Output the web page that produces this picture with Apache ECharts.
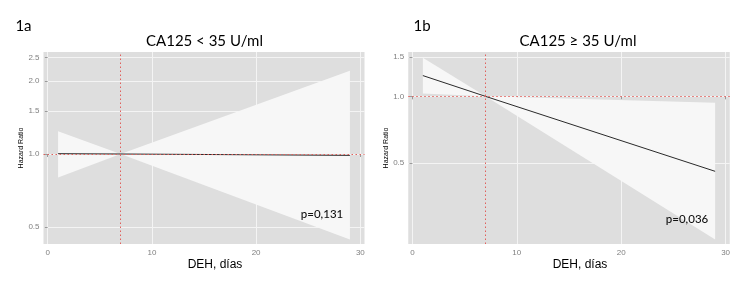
<!DOCTYPE html>
<html>
<head>
<meta charset="utf-8">
<script src="https://cdn.jsdelivr.net/npm/echarts@6/dist/echarts.min.js"></script>
<style>
html,body{margin:0;padding:0;background:#fff;}
#chart{width:750px;height:290px;}
</style>
</head>
<body>
<div id="chart"></div>
<script>
// ---- data ----
const xValues = [1, 7, 29];              // DEH, días
// Panel 1a: CA125 < 35 U/ml
const hrA    = [1.003, 1.00, 0.987];
const lowerA = [0.80, 1.00, 0.445];
const upperA = [1.24, 1.00, 2.20];
// Panel 1b: CA125 >= 35 U/ml
const hrB    = [1.24, 1.00, 0.46];
const lowerB = [1.03, 1.00, 0.227];
const upperB = [1.49, 1.00, 0.936];
// axes
const xTicks  = [0, 10, 20, 30];
const yTicksA = [0.5, 1.0, 1.5, 2.0, 2.5];
const yTicksB = [0.5, 1.0, 1.5];
const xLimits  = [-0.4, 30.4];
const yLimitsA = [0.426, 2.63];
const yLimitsB = [0.2167, 1.583];
const refX = 7;
const refHR = 1.0;
const titles = ['CA125 < 35 U/ml', 'CA125 \u2265 35 U/ml'];
const panelLabels = ['1a', '1b'];
const pValues = ['p=0,131', 'p=0,036'];
const xName = 'DEH, días';
const yName = 'Hazard Ratio';

const ln = Math.log;
const chart = echarts.init(document.getElementById('chart'), null, {renderer: 'canvas'});

const BG = '#dedede';
const RIBBON = '#f7f7f7';
const GRIDLINE = '#f4f4f4';

function ribbonItem(params, api) {
  const i = params.dataIndexInside;
  if (i === 0) return null;
  const a0 = api.coord([api.value(0, i - 1), api.value(1, i - 1)]);
  const a1 = api.coord([api.value(0, i), api.value(1, i)]);
  const b1 = api.coord([api.value(0, i), api.value(2, i)]);
  const b0 = api.coord([api.value(0, i - 1), api.value(2, i - 1)]);
  return {type: 'polygon', shape: {points: [a0, a1, b1, b0]}, style: {fill: RIBBON}};
}

function xAxisFor(idx) {
  return {
    gridIndex: idx, type: 'value', min: xLimits[0], max: xLimits[1],
    axisLine: {show: false},
    axisTick: {show: true, length: 3, customValues: xTicks, lineStyle: {color: '#9a9a9a', width: 1}},
    axisLabel: {customValues: xTicks, fontSize: 8, color: '#808080', margin: 5, fontFamily: 'Liberation Sans'},
    splitLine: {show: true, lineStyle: {color: GRIDLINE, width: 1}}
  };
}
function yAxisFor(idx, lim, ticks) {
  const tv = ticks.map(t => ln(t));
  return {
    gridIndex: idx, type: 'value', min: ln(lim[0]), max: ln(lim[1]),
    name: yName, nameLocation: 'middle', nameRotate: 90, nameGap: 17,
    nameTextStyle: {fontSize: 7, color: '#000', fontFamily: 'Liberation Sans'},
    axisLine: {show: false},
    axisTick: {show: true, length: 3, customValues: tv, lineStyle: {color: '#9a9a9a', width: 1}},
    axisLabel: {customValues: tv, fontSize: 8, color: '#808080', margin: 4, fontFamily: 'Liberation Sans',
      formatter: v => Math.exp(v).toFixed(1)},
    splitLine: {show: true, lineStyle: {color: GRIDLINE, width: 1}}
  };
}

function panelSeries(idx, hr, lo, hi) {
  return [
    {
      type: 'custom', xAxisIndex: idx, yAxisIndex: idx, z: 2,
      renderItem: ribbonItem,
      encode: {x: 0, y: [1, 2]},
      data: xValues.map((x, i) => [x, ln(lo[i]), ln(hi[i])]),
      silent: true
    },
    {
      type: 'line', xAxisIndex: idx, yAxisIndex: idx, z: 3, data: [],
      markLine: {
        silent: true, symbol: 'none', label: {show: false},
        lineStyle: {color: '#e0605c', type: [1.5, 2.5], width: 1},
        data: [{xAxis: refX}, {yAxis: ln(refHR)}]
      }
    },
    {
      type: 'line', xAxisIndex: idx, yAxisIndex: idx, z: 4,
      showSymbol: false, symbol: 'none',
      lineStyle: {color: '#2a2a2a', width: 1},
      data: xValues.map((x, i) => [x, ln(hr[i])])
    }
  ];
}

function txt(text, x, y, font, color) {
  return {type: 'text', x: x, y: y, z: 100, zlevel: 0, silent: true,
    style: {text: text, font: font, fill: color || '#000', align: 'center', verticalAlign: 'middle'}};
}

const option = {
  animation: false,
  backgroundColor: '#fff',
  grid: [
    {left: 43.5, top: 52, width: 321, height: 192, show: true, backgroundColor: BG, borderWidth: 0},
    {left: 408.25, top: 52, width: 321.5, height: 192, show: true, backgroundColor: BG, borderWidth: 0}
  ],
  xAxis: [xAxisFor(0), xAxisFor(1)],
  yAxis: [yAxisFor(0, yLimitsA, yTicksA), yAxisFor(1, yLimitsB, yTicksB)],
  series: [].concat(panelSeries(0, hrA, lowerA, upperA), panelSeries(1, hrB, lowerB, upperB)),
  graphic: {
    elements: [
      txt(panelLabels[0], 23.5, 26, '15px Lato'),
      txt(panelLabels[1], 422, 26, '15px Lato'),
      txt(titles[0], 204.5, 41, '15px Lato'),
      txt(titles[1], 578, 41, '15px Lato'),
      txt(xName, 215, 265, '12px "Liberation Sans"'),
      txt(xName, 580, 265, '12px "Liberation Sans"'),
      txt(pValues[0], 322, 214.5, '500 11.5px Lato', '#111'),
      txt(pValues[1], 687, 219.5, '500 11.5px Lato', '#111')
    ]
  }
};
chart.setOption(option);
</script>
</body>
</html>
